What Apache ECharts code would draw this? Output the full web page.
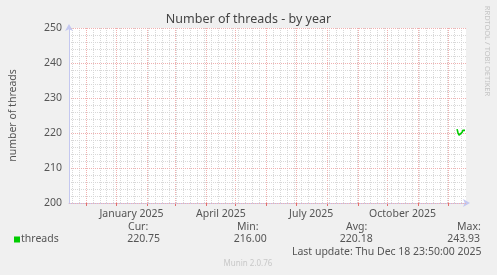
<!DOCTYPE html>
<html>
<head>
<meta charset="utf-8">
<script src="https://cdn.jsdelivr.net/npm/echarts@6/dist/echarts.min.js"></script>
<style>
html,body{margin:0;padding:0;background:#f0f0f0;}
#c{width:497px;height:275px;}
</style>
</head>
<body>
<div id="c"></div>
<script>
// ---- chart values ----
const TITLE = 'Number of threads - by year';
const Y_NAME = 'number of threads';
const SERIES_NAME = 'threads';
const yTicks = [200, 210, 220, 230, 240, 250];
const days = ['2025-12-10','2025-12-11','2025-12-12','2025-12-13','2025-12-14','2025-12-15','2025-12-16','2025-12-17','2025-12-18'];
const threads = [221.1, 220.0, 219.4, 219.3, 219.6, 220.2, 220.8, 220.9, 220.75];
const xLabelNames = ['January 2025', 'April 2025', 'July 2025', 'October 2025'];
const xLabelDays = ['2025-01-16', '2025-04-16', '2025-07-16', '2025-10-16'];
const legendHeaders = ['Cur:', 'Min:', 'Avg:', 'Max:'];
const legendValues = ['220.75', '216.00', '220.18', '243.93'];
const LAST_UPDATE = 'Last update: Thu Dec 18 23:50:00 2025';
const FOOTER = 'Munin 2.0.76';
const WATERMARK = 'RRDTOOL / TOBI OETIKER';

// ---- helpers ----
const DAY = 86400000;
const END = Date.UTC(2025, 11, 18, 23, 50);
const START = END - 400 * DAY;
function ts(s){ const p = s.split('-').map(Number); return Date.UTC(p[0], p[1]-1, p[2]); }

const monthStarts = [];
for (let y = 2024, m = 0; y < 2026; ) {
  const t = Date.UTC(y, m, 1);
  if (t > START && t < END) monthStarts.push(t);
  m++; if (m === 12) { m = 0; y++; }
}
const weekStarts = [];
{
  let t = Date.UTC(2024, 10, 17); // Sunday
  while (t < END) { if (t > START) weekStarts.push(t); t += 7 * DAY; }
}
const yMin = yTicks[0], yMax = yTicks[yTicks.length-1];

const labelTs = xLabelDays.map(ts);
const labelMap = {};
labelTs.forEach((t, i) => labelMap[t] = xLabelNames[i]);

const FONT = '"Noto Sans", "DejaVu Sans", sans-serif';
const TXT = '#555';
const RED = '#f0b0b0';
const GREY = '#d8d8d8';
const AXIS = '#c4c8f0';

const chart = echarts.init(document.getElementById('c'), null, {renderer: 'canvas'});

const legendX = [{h: 128, v: 160}, {h: 237, v: 266.7}, {h: 346, v: 372.7}, {h: 457, v: 480}];
const graphics = [];
graphics.push({type: 'text', left: 'center', top: 13, style: {text: TITLE, font: '12.5px ' + FONT, fill: '#444'}});
graphics.push({type: 'text', x: 487, y: 51, rotation: -Math.PI/2,
  style: {text: WATERMARK, x: 0, y: 0, font: '7.5px ' + FONT, fill: '#c4c4c4', align: 'center', textAlign: 'center', verticalAlign: 'middle', textVerticalAlign: 'middle'}});
graphics.push({type: 'rect', shape: {x: 14, y: 236.5, width: 6, height: 6}, style: {fill: '#00cc00'}});
graphics.push({type: 'text', style: {text: SERIES_NAME, x: 21, y: 239.5, font: '10.5px ' + FONT, fill: TXT, align: 'left', textAlign: 'left', verticalAlign: 'middle', textVerticalAlign: 'middle'}});
legendHeaders.forEach((h, i) => {
  graphics.push({type: 'text', style: {text: h, x: legendX[i].h, y: 227, font: '10.5px ' + FONT, fill: TXT, align: 'left', textAlign: 'left', verticalAlign: 'middle', textVerticalAlign: 'middle'}});
  graphics.push({type: 'text', style: {text: legendValues[i], x: legendX[i].v, y: 239.5, font: '10.5px ' + FONT, fill: TXT, align: 'right', textAlign: 'right', verticalAlign: 'middle', textVerticalAlign: 'middle'}});
});
graphics.push({type: 'text', style: {text: LAST_UPDATE, x: 481.5, y: 252, font: '10.5px ' + FONT, fill: TXT, align: 'right', textAlign: 'right', verticalAlign: 'middle', textVerticalAlign: 'middle'}});
graphics.push({type: 'text', style: {text: FOOTER, x: 248, y: 263.5, font: '8px ' + FONT, fill: '#c8c8c8', align: 'center', textAlign: 'center', verticalAlign: 'middle', textVerticalAlign: 'middle'}});

const option = {
  backgroundColor: '#f0f0f0',
  animation: false,
  textStyle: {fontFamily: FONT},
  grid: {left: 66, top: 28, width: 400, height: 175, show: true, backgroundColor: '#ffffff', borderWidth: 0, containLabel: false},
  xAxis: [
    { // weekly grey grid
      type: 'value', min: START, max: END, position: 'bottom',
      axisLine: {show: false},
      axisTick: {show: false, customValues: weekStarts},
      axisLabel: {show: false},
      splitLine: {show: true, lineStyle: {color: GREY, width: 1, type: [1, 1]}},
      z: 0
    },
    { // monthly red grid, labels
      type: 'value', min: START, max: END, position: 'bottom',
      axisLine: {show: true, lineStyle: {color: AXIS, width: 1}, symbol: ['none', 'arrow'], symbolSize: [6, 7], symbolOffset: [0, 4]},
      axisTick: {show: true, customValues: monthStarts, length: 3, lineStyle: {color: '#e07070'}},
      axisLabel: {customValues: labelTs, formatter: (v) => labelMap[v] || '', fontSize: 10.5, color: TXT, margin: 6, fontFamily: FONT, showMinLabel: true, showMaxLabel: true},
      splitLine: {show: true, lineStyle: {color: RED, width: 1, type: [1, 1]}},
      z: 1
    }
  ],
  yAxis: {
    type: 'value', min: yMin, max: yMax, interval: 10,
    name: Y_NAME, nameLocation: 'middle', nameGap: 50,
    nameTextStyle: {fontSize: 10.5, color: TXT, fontFamily: FONT},
    axisLine: {show: true, lineStyle: {color: AXIS, width: 1}, symbol: ['none', 'arrow'], symbolSize: [6, 7], symbolOffset: [0, 4]},
    axisTick: {show: false},
    axisLabel: {fontSize: 10.5, color: TXT, margin: 7, fontFamily: FONT},
    splitLine: {show: true, lineStyle: {color: RED, width: 1, type: [1, 1]}},
    minorTick: {show: false, splitNumber: 5},
    minorSplitLine: {show: true, lineStyle: {color: GREY, width: 1, type: [1, 1]}},
    z: 2
  },
  graphic: {elements: graphics},
  series: [
    {
      name: SERIES_NAME, type: 'line', z: 5, xAxisIndex: 1,
      data: days.map((d, i) => [ts(d), threads[i]]),
      showSymbol: false, symbol: 'none',
      lineStyle: {color: '#00cc00', width: 1.6},
      itemStyle: {color: '#00cc00'}
    }
  ]
};
chart.setOption(option);
</script>
</body>
</html>
